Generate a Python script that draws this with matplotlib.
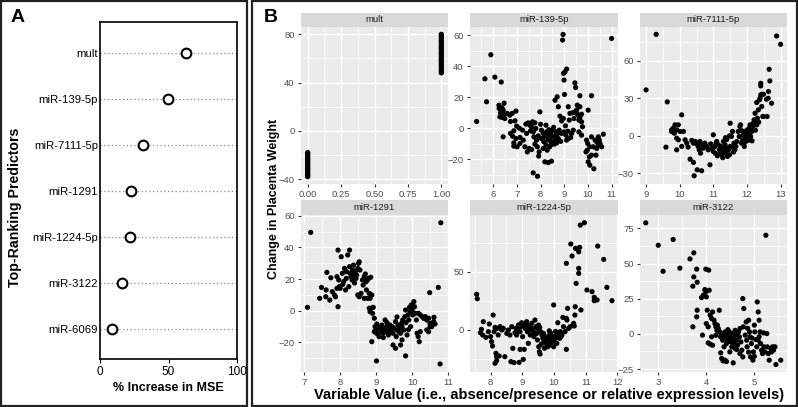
import matplotlib
matplotlib.use("Agg")
import matplotlib.pyplot as plt
from matplotlib.patches import Rectangle
from matplotlib.ticker import FixedLocator

# ---------------- Panel A data ----------------
predictors = ["mult", "miR-139-5p", "miR-7111-5p", "miR-1291", "miR-1224-5p", "miR-3122", "miR-6069"]
pct_inc_mse = [62.7, 49.8, 31.1, 22.8, 21.8, 16.4, 8.8]

# ---------------- Panel B data ----------------
mult_absent_y = [-38, -37, -36.5, -35.5, -34.5, -33.5, -32.5, -31.5, -30.5, -29.5, -28.5, -27.5,
                 -26.5, -25.5, -24.5, -23.5, -22.5, -21.5, -20.5, -19.5, -18.5, -18]
mult_present_y = [48, 49, 50, 51.5, 53, 54, 55, 56.5, 58, 59, 60, 61.5, 63, 64, 65, 66.5, 68,
                  69, 70, 71.5, 73, 74, 75, 76.5, 78, 79, 80]

mir139_pts = [
    (5.30, 4.3), (5.65, 31.8), (5.72, 17), (5.90, 47.3), (6.07, 32.9), (6.34, 29.7), (6.24, 14.8),
    (6.46, 16.1), (6.25, 12.7), (6.37, 13.1), (6.42, 11.6), (6.31, 9.9), (6.45, 8.8), (6.28, 7.3),
    (6.38, 6.9), (6.49, 6.2), (6.59, 9.5), (6.70, 8.4), (6.80, 9.5), (6.96, 11), (6.42, -5.6),
    (6.73, 4.3), (6.92, 4.7), (6.99, 1.3), (6.87, -1.7), (6.73, -3.4), (6.82, -5.2), (6.96, -6.7),
    (6.87, -9.5), (6.87, -11.6), (7.01, -12), (7.13, -9.9), (7.13, -6), (7.10, 0), (7.24, -1.3),
    (7.27, -7.7), (7.34, -12), (7.44, -15.3), (7.52, -13.1), (7.41, -3.4), (7.38, 2.6), (7.48, 3.4),
    (7.55, 1.9), (7.62, 0.9), (7.58, -1.7), (7.69, -2.4), (7.76, 3.4), (7.66, 4.1), (7.80, -0.2),
    (7.72, -5.6), (7.83, -7.7), (7.76, -10.3), (7.86, -12), (7.62, -13.8), (7.94, -15.3), (7.92, -18),
    (7.69, -28.8), (7.87, -31), (7.97, 10.5), (8.04, -1.3), (8.11, -3.4), (8.18, -5.6), (8.04, -6.7),
    (8.14, -8.8), (8.23, -11), (8.25, -2.4), (8.32, -4.5), (8.39, -6.7), (8.32, -7.7), (8.46, -8.8),
    (8.42, -3.4), (8.54, -5.2), (8.61, -7.3), (8.51, -1.3), (8.65, -2.4), (8.61, -5.6), (8.70, -3.9),
    (8.75, -6.7), (8.23, 1.9), (8.11, -13.1), (8.28, -14.2), (8.18, -21.7), (8.32, -22.2),
    (8.46, -21.3), (8.39, -12), (8.58, -10.3), (8.68, -9.5), (8.61, 18), (8.70, 20.2), (8.75, 13.8),
    (8.82, 7.7), (8.96, 6.2), (8.89, 4.7), (8.79, -1.3), (8.89, -3.4), (8.99, -2.4), (9.07, -4.5),
    (9.17, -6.7), (9.10, -7.7), (8.99, 31), (9.01, 21.7), (9.17, 13.8), (9.24, 9.5), (9.21, 5.2),
    (9.31, -3.4), (9.38, -1.3), (9.27, -6), (8.95, 60.4), (8.93, 56.8), (9.03, 36.3), (9.10, 38.1),
    (8.97, 35.3), (9.45, 29.2), (9.48, 26.2), (9.66, 20.9), (9.55, 14.8), (9.66, 13.8), (9.45, 10.5),
    (9.35, 9.9), (9.52, 9.5), (9.59, 8.4), (9.66, 6.9), (9.73, 9), (9.62, 5.2), (9.73, 4.1),
    (9.52, 11.6), (9.41, 6.2), (9.77, 0.9), (9.73, -4.5), (9.62, -2.4), (10.01, 11.6), (10.15, 20.9),
    (9.94, -7.7), (9.99, -9.9), (9.97, -14.2), (9.92, -15.3), (10.08, -12), (10.15, -17.4),
    (10.06, -18.5), (10.01, -21.7), (10.08, -23.9), (10.25, -26.2), (10.34, -17.4), (10.15, -5.6),
    (10.30, -7.7), (10.37, -8.8), (10.44, -11), (10.51, -9.9), (10.48, -7.7), (10.58, -12),
    (10.65, -3.9), (10.44, -5.6), (10.37, -13.1), (10.23, -12), (11.0, 57.8), (8.35, -1.0),
    (8.55, 0.5), (8.45, -10.5), (8.85, -8.5), (9.05, 1.5), (9.15, -2.0), (7.90, -5.0), (8.00, 2.5),
]

mir7111_pts = [
    (9.0, 36.8), (9.3, 81.3), (9.63, 27.2), (9.59, -9.1), (9.91, -1.9), (9.76, 4.8), (9.81, 6.1),
    (9.86, 8.8), (9.96, 8.8), (9.91, 4.8), (9.76, 3.5), (9.84, 2.1), (10.01, 3.5), (10.06, 16.8),
    (10.11, 3.5), (9.96, -3.2), (9.91, -11.2), (10.06, -8.5), (10.16, -3.2), (10.21, -5.9),
    (10.31, -18.7), (10.41, -21.3), (10.43, -32), (10.52, -27.2), (10.65, -28), (10.36, -3.7),
    (10.41, -5.9), (10.46, -4.5), (10.51, -6.4), (10.55, -8.5), (10.58, -11.2), (10.60, -4.5),
    (10.65, -7.2), (10.70, -9.9), (10.62, -13.9), (10.75, -5.9), (10.80, -8.5), (10.90, -23.2),
    (11.0, 0.8), (10.85, -11.2), (10.95, -9.9), (11.0, -12.5), (11.05, -8.5), (11.08, -5.9),
    (11.10, -4.5), (11.15, -7.2), (11.18, -11.2), (11.20, -13.9), (11.25, -15.2), (11.22, -8.5),
    (11.28, -9.9), (11.30, -4.5), (11.35, -7.2), (11.32, -12.5), (11.38, -13.9), (11.40, -9.9),
    (11.45, -11.2), (11.42, -16.5), (11.48, -15.2), (11.50, -8.5), (11.48, 0), (11.50, 10.1),
    (11.54, -0.5), (11.57, 3.5), (11.61, -5.9), (11.64, -11.2), (11.67, -8.5), (11.70, -4.5),
    (11.74, 3.5), (11.79, 7.5), (11.81, 8.8), (11.77, -0.5), (11.84, -5.9), (11.87, -3.2),
    (11.89, 0.8), (11.94, 3.5), (11.92, -8.5), (11.97, -1.9), (11.99, 0.8), (12.01, 4.8),
    (12.04, 2.1), (12.07, 6.1), (12.09, 8.8), (12.11, -0.5), (12.14, 3.5), (12.17, 7.5),
    (12.19, 10.1), (12.21, 12.8), (12.24, 18.1), (12.27, 11.5), (12.29, 8.8), (12.31, 14.1),
    (12.34, 20.8), (12.29, 26.7), (12.37, 28.8), (12.39, 30.1), (12.41, 32.8), (12.44, 33.3),
    (12.49, 33.3), (12.41, 42.1), (12.41, 40), (12.44, 23.5), (12.47, 15.5), (12.49, 15.5),
    (12.60, 15.5), (12.58, 29.3), (12.64, 35.5), (12.63, 30.1), (12.73, 26.1), (12.68, 44),
    (12.66, 53.3), (12.88, 80), (13.0, 73.3), (11.12, -16.0), (11.28, -17.5), (11.36, -1.5),
    (11.06, -14.0), (11.60, -13.0), (11.55, -9.0), (12.15, -4.0), (12.25, 4.5), (12.35, 11.0),
    (11.85, 4.0), (10.92, -6.5), (11.40, -3.0), (11.95, -5.0), (12.05, -3.5), (10.25, -9.0),
]

mir1291_pts = [
    (7.09, 2.1), (7.18, 49.5), (7.43, 7.8), (7.48, 14.7), (7.61, 13.1), (7.63, 24.2), (7.60, 8.8),
    (7.71, 6.7), (7.74, 20.8), (7.78, 12), (7.84, 9.9), (7.91, 21.5), (7.94, 2.5), (7.87, 8.8),
    (7.94, 38.3), (7.96, 19.4), (7.98, 15.2), (8.00, 14.1), (7.91, 14.1), (8.03, 34.1), (8.06, 23.6),
    (8.07, 16.6), (8.12, 26.7), (8.15, 13.1), (8.17, 20.4), (8.18, 24.6), (8.21, 35.2), (8.24, 15.2),
    (8.26, 27.8), (8.28, 23.6), (8.30, 21.5), (8.26, 38.3), (8.33, 19.4), (8.35, 25.7), (8.37, 28.8),
    (8.39, 22.5), (8.42, 24.6), (8.44, 20.4), (8.46, 22.5), (8.49, 26.7), (8.51, 29.9), (8.53, 30.9),
    (8.55, 25.7), (8.49, 9.9), (8.53, 8.8), (8.58, 10.9), (8.62, 19.4), (8.64, 16.2), (8.67, 21.5),
    (8.70, 23.2), (8.72, 18.3), (8.73, 13.1), (8.76, 19.4), (8.79, 20.4), (8.81, 10.9), (8.83, 7.8),
    (8.85, 21.1), (8.88, 9.9), (8.67, 7.8), (8.76, 7.8), (8.81, 1.5), (8.85, 1.5), (8.92, 2.1),
    (8.83, -0.6), (8.90, -1.7), (8.88, -19.6), (8.95, -4.8), (8.97, -10.1), (8.99, -12.2),
    (9.01, -14.3), (8.95, -13.3), (9.02, -8.4), (9.04, -10.1), (9.01, -31.8), (9.08, -16.4),
    (9.10, -11.2), (9.13, -13.3), (9.16, -9.1), (9.17, -10.1), (9.19, -14.3), (9.22, -12.2),
    (9.25, -5.9), (9.27, -11.2), (9.28, -13.3), (9.31, -10.1), (9.34, -15.4), (9.36, -12.2),
    (9.38, -9.1), (9.40, -11.2), (9.43, -13.3), (9.45, -10.1), (9.47, -14.3), (9.50, -11.2),
    (9.47, -21.7), (9.54, -23.8), (9.56, -16.4), (9.59, -12.2), (9.61, -9.1), (9.63, -13.3),
    (9.65, -11.2), (9.68, -14.3), (9.54, -6.9), (9.71, -8), (9.72, -10.1), (9.74, -5.9),
    (9.68, -21.7), (9.72, -18.5), (9.77, -12.2), (9.80, -3.8), (9.82, 0.4), (9.83, -7.6),
    (9.86, -15.4), (9.89, -2.7), (9.91, -5.9), (9.93, 2.1), (9.95, -0.6), (9.96, -10.1), (9.98, 3.6),
    (10.0, 0.4), (10.02, -2.7), (10.05, 5.7), (10.07, 2.5), (10.09, -1.7), (10.12, -5.9),
    (9.82, -28.6), (10.14, -14.3), (10.17, -16.4), (10.20, -19.6), (10.23, -13.3), (10.18, -1.7),
    (10.23, -2.7), (10.28, -3.8), (10.32, -4.8), (10.37, -3.8), (10.41, -5.9), (10.46, -4.8),
    (10.50, -8), (10.46, -13.3), (10.49, 11.4), (10.55, -10.1), (10.60, -6.9), (10.64, -8.4),
    (10.61, -4.2), (10.73, 14.7), (10.80, 55.6), (10.78, -33.7), (10.41, -12.2), (10.50, -10.1),
    (9.20, -17.0), (9.30, -7.5), (9.58, -4.0), (9.90, -12.0), (8.40, 17.5), (8.10, 18.5),
]

mir1224_pts = [
    (7.56, 30.5), (7.58, 26.7), (7.68, -2.6), (7.71, 0.3), (7.77, 6.9), (7.75, -4.6), (7.85, -6.6),
    (7.93, -1.7), (7.96, 4.9), (8.0, -6), (8.03, -10.3), (8.08, 12.6), (8.11, -1.7), (8.14, 2),
    (8.06, -14.1), (8.17, -20.4), (8.19, -23.3), (8.24, -4.6), (8.21, 1.1), (8.30, 2.6), (8.35, -0.3),
    (8.40, 1.1), (8.27, -22.7), (8.14, -29), (8.19, -26.7), (8.45, -23.3), (8.51, -3.2), (8.56, -0.3),
    (8.61, -4.6), (8.64, -27.6), (8.67, 2.6), (8.70, -16.1), (8.74, -28.4), (8.77, -2.6), (8.80, 1.1),
    (8.82, -4.6), (8.88, 4), (8.90, -28.2), (8.93, -1.7), (8.95, 2.6), (8.98, 6), (8.93, -17),
    (9.01, -6), (9.03, -25.6), (9.06, -17), (9.09, 1.1), (9.12, 4.9), (9.14, 6.9), (9.16, -1.7),
    (9.19, -11.8), (9.22, 3.2), (9.25, -4.6), (9.27, -0.3), (9.30, 5.5), (9.33, 1.1), (9.35, -1.7),
    (9.37, -6), (9.40, 8.3), (9.44, 2.6), (9.46, -3.2), (9.48, 1.1), (9.51, 4), (9.48, -8.9),
    (9.52, -14.7), (9.54, -19), (9.56, -21), (9.58, -1.7), (9.62, -4.6), (9.65, -7.5), (9.67, -3.2),
    (9.69, -10.3), (9.72, -6), (9.75, -11.8), (9.77, -8.9), (9.80, -14.7), (9.83, -7.5), (9.86, -4.6),
    (9.88, -10.3), (9.90, -13.2), (9.93, -8.9), (9.96, -6), (9.99, -14.7), (10.01, -10.3),
    (10.04, -7.5), (9.99, 21.3), (10.08, -4.6), (10.09, -11.8), (10.12, 6), (10.14, -3.2),
    (10.18, -7.5), (10.20, -1.7), (10.22, -6), (10.25, -4.6), (10.28, 10.6), (10.30, 2.6),
    (10.35, -1.7), (10.39, 9.8), (10.41, 8.3), (10.43, 18.4), (10.39, -17), (10.39, 57.2),
    (10.46, 1.1), (10.51, 2.6), (10.53, 73.9), (10.57, 63.5), (10.60, 4), (10.62, 5.5), (10.64, 3.2),
    (10.66, 12.6), (10.67, 19.8), (10.68, 70.1), (10.70, 39.9), (10.78, 52.9), (10.78, 48.6),
    (10.78, 67.2), (10.81, 71), (10.83, 90.2), (10.85, 17), (10.96, 92.2), (11.04, 34.2),
    (11.20, 32.8), (11.27, 27.9), (11.27, 25), (11.30, 26.1), (11.36, 25.6), (11.38, 72.1),
    (11.57, 60.6), (11.67, 36.5), (11.83, 25), (9.60, -12.5), (9.70, -16.0), (9.85, -1.0),
    (9.40, -3.5), (9.20, 0.5), (8.85, 0.0), (9.05, 3.0), (9.55, 2.0), (9.90, -3.0), (10.05, -1.5),
]

mir3122_pts = [
    (2.74, 78.9), (3.0, 63), (3.10, 44.5), (3.31, 67.1), (3.45, 46.7), (3.66, 53.3), (3.74, 57.6),
    (3.72, 33.9), (3.74, 40.5), (3.80, 46), (3.81, 36.7), (3.81, 16.8), (3.80, 12.1), (3.72, 5),
    (3.92, -0.9), (3.90, 25.8), (3.94, 27.5), (3.97, 31.5), (3.99, 29.9), (4.0, 26.3), (4.06, 31),
    (3.99, 46), (4.05, 45.3), (4.02, 16.8), (4.0, 7.3), (4.04, 5), (4.08, 13.3), (4.11, 10.9),
    (4.13, 15.6), (4.16, 9.7), (4.18, 7.3), (4.20, 5), (4.22, 2.6), (4.23, 6.2), (4.25, 3.8),
    (4.27, 16.8), (4.04, -6.4), (4.08, -7.3), (4.13, -8.1), (4.11, -2.1), (4.28, 1.4), (4.30, -2.1),
    (4.32, 0.2), (4.34, -4.5), (4.35, -0.9), (4.37, -9.2), (4.39, 1.4), (4.41, -3.3), (4.42, -6.9),
    (4.30, -13.5), (4.32, -17.5), (4.35, -19.2), (4.39, -18.7), (4.42, -19.7), (4.44, -0.9),
    (4.46, -4.5), (4.48, 1.4), (4.49, -2.1), (4.51, -5.7), (4.53, -9.2), (4.55, 0.2), (4.56, -3.3),
    (4.58, -6.9), (4.60, -10.4), (4.56, -20.6), (4.62, -0.9), (4.63, -4.5), (4.65, -8.1),
    (4.67, 1.4), (4.69, -2.1), (4.70, 3.8), (4.72, -5.7), (4.74, -11.6), (4.76, -16.4), (4.76, 25.1),
    (4.78, 18), (4.77, 5), (4.81, -0.9), (4.83, 8.5), (4.84, -4.5), (4.85, -9.2), (4.88, 9.7),
    (4.90, 1.4), (4.91, -2.1), (4.92, -16.4), (4.94, -6.9), (4.97, -18.7), (4.98, -12.8), (5.0, 6.2),
    (5.01, 1.4), (5.03, -4), (5.05, -9.2), (5.06, 22.7), (5.08, 15.6), (5.10, 9.7), (5.08, -4.5),
    (5.12, 1.4), (5.13, -6.9), (5.15, -11.6), (5.17, -14), (5.19, 0.7), (5.20, -9.2), (5.22, -12.8),
    (5.24, 70.1), (5.26, 0.2), (5.27, -9.2), (5.29, -14), (5.31, -18.7), (5.34, -10.4),
    (5.36, -12.8), (5.38, -9.2), (5.40, -11.6), (5.43, -9.2), (5.45, -21.8), (5.55, -18.7),
    (4.63, -11.1), (4.49, -12.8), (4.20, -1.0), (4.45, 3.0), (4.60, 2.5), (4.86, 4.0), (4.95, -3.0),
    (5.10, -2.0), (4.70, -14.0), (4.88, -13.0), (5.00, -16.0),
]

facet_titles = ["mult", "miR-139-5p", "miR-7111-5p", "miR-1291", "miR-1224-5p", "miR-3122"]

W, H = 798, 407
plt.rcParams['font.family'] = ['Liberation Sans', 'DejaVu Sans']
fig = plt.figure(figsize=(W / 100, H / 100), dpi=100)


def fx(px):
    return px / W


def fy(py):
    return 1 - py / H


def rect(x0, y0, x1, y1):
    return [fx(x0), fy(y1), fx(x1) - fx(x0), fy(y0) - fy(y1)]


# outer frames
fig.patches.append(Rectangle((fx(1), fy(406)), fx(247) - fx(1), fy(1) - fy(406),
                             transform=fig.transFigure, fill=False, ec='#222222', lw=1.6))
fig.patches.append(Rectangle((fx(252), fy(406)), fx(797) - fx(252), fy(1) - fy(406),
                             transform=fig.transFigure, fill=False, ec='#222222', lw=1.6))

# ---------------- Panel A ----------------
axA = fig.add_axes(rect(100, 22, 237, 359))
n = len(predictors)
ypos = list(range(n, 0, -1))
for yy in ypos:
    axA.plot([0, 100], [yy, yy], linestyle=(0, (1, 2)), color='#888888', lw=0.9, zorder=1)
axA.plot(pct_inc_mse, ypos, 'o', mfc='white', mec='black', mew=1.5, ms=7, zorder=3)
axA.set_xlim(0, 100)
axA.set_ylim(0.35, n + 0.67)
axA.set_yticks(ypos)
axA.set_yticklabels(predictors, fontsize=8.2)
axA.set_xticks([0, 50, 100])
axA.tick_params(axis='x', labelsize=8.5, length=3, width=0.8, direction='out', pad=2)
axA.tick_params(axis='y', length=0, pad=1.5)
for s in axA.spines.values():
    s.set_linewidth(1.2)
fig.text(fx(168), fy(388), "% Increase in MSE", fontsize=9, fontweight='bold', ha='center', va='center')
fig.text(fx(15), fy(207), "Top-Ranking Predictors", fontsize=10.2, fontweight='bold', rotation=90,
         ha='center', va='center')
fig.text(fx(11), fy(17), "A", fontsize=14, fontweight='bold', va='center', ha='left')
fig.text(fx(264), fy(17), "B", fontsize=14, fontweight='bold', va='center', ha='left')

# ---------------- Panel B ----------------
cols = [(301, 448), (470, 618), (640, 787)]
rows = [((13, 27), (27, 184)), ((200, 215), (215, 372))]

facet_data = [
    ([0.0] * len(mult_absent_y) + [1.0] * len(mult_present_y), mult_absent_y + mult_present_y),
    ([p[0] for p in mir139_pts], [p[1] for p in mir139_pts]),
    ([p[0] for p in mir7111_pts], [p[1] for p in mir7111_pts]),
    ([p[0] for p in mir1291_pts], [p[1] for p in mir1291_pts]),
    ([p[0] for p in mir1224_pts], [p[1] for p in mir1224_pts]),
    ([p[0] for p in mir3122_pts], [p[1] for p in mir3122_pts]),
]
xlims = [(-0.05, 1.05), (5.02, 11.27), (8.82, 13.19), (6.91, 11.0), (7.35, 12.02), (2.62, 5.68)]
ylims = [(-44.0, 86.0), (-36.0, 65.2), (-38.6, 87.2), (-38.8, 60.5), (-36.5, 98.9), (-27.1, 84.5)]
xmaj = [[0, 0.25, 0.5, 0.75, 1.0], [6, 7, 8, 9, 10, 11], [9, 10, 11, 12, 13],
        [7, 8, 9, 10, 11], [8, 9, 10, 11, 12], [3, 4, 5]]
xlabels = [["0.00", "0.25", "0.50", "0.75", "1.00"], None, None, None, None, None]
ymaj = [[-40, 0, 40, 80], [-20, 0, 20, 40, 60], [-30, 0, 30, 60],
        [-20, 0, 20, 40, 60], [0, 50], [-25, 0, 25, 50, 75]]


def minors(major, lim):
    step = major[1] - major[0]
    vals = []
    v = major[0] - step / 2
    while v >= lim[0]:
        vals.append(v)
        v -= step
    for i in range(len(major) - 1):
        vals.append((major[i] + major[i + 1]) / 2)
    v = major[-1] + step / 2
    while v <= lim[1]:
        vals.append(v)
        v += step
    return vals


for i in range(6):
    r, c = divmod(i, 3)
    (sy0, sy1), (py0, py1) = rows[r]
    x0, x1 = cols[c]
    ax = fig.add_axes(rect(x0, py0, x1, py1))
    ax.set_facecolor('#EBEBEB')
    xs, ys = facet_data[i]
    ax.scatter(xs, ys, s=14, color='black', edgecolors='none', zorder=3)
    ax.set_xlim(*xlims[i])
    ax.set_ylim(*ylims[i])
    ax.xaxis.set_major_locator(FixedLocator(xmaj[i]))
    ax.yaxis.set_major_locator(FixedLocator(ymaj[i]))
    ax.xaxis.set_minor_locator(FixedLocator(minors(xmaj[i], xlims[i])))
    ax.yaxis.set_minor_locator(FixedLocator(minors(ymaj[i], ylims[i])))
    if xlabels[i] is not None:
        ax.set_xticklabels(xlabels[i])
    ax.grid(which='major', color='white', lw=1.0)
    ax.grid(which='minor', color='white', lw=0.5)
    ax.set_axisbelow(True)
    for s in ax.spines.values():
        s.set_visible(False)
    ax.tick_params(which='major', length=2.5, width=0.8, color='#333333',
                   labelcolor='#4D4D4D', labelsize=6.8, pad=2)
    ax.tick_params(which='minor', length=0)
    sax = fig.add_axes(rect(x0, sy0, x1, sy1))
    sax.set_facecolor('#D9D9D9')
    sax.set_xticks([])
    sax.set_yticks([])
    for s in sax.spines.values():
        s.set_visible(False)
    sax.text(0.5, 0.5, facet_titles[i], ha='center', va='center', fontsize=6.8,
             color='#1A1A1A', transform=sax.transAxes)

fig.text(fx(274), fy(199), "Change in Placenta Weight", rotation=90, ha='center', va='center',
         fontsize=9, fontweight='bold')
fig.text(fx(549), fy(395), "Variable Value (i.e., absence/presence or relative expression levels)",
         ha='center', va='center', fontsize=10.5, fontweight='bold')

fig.savefig("out.png", dpi=100)
